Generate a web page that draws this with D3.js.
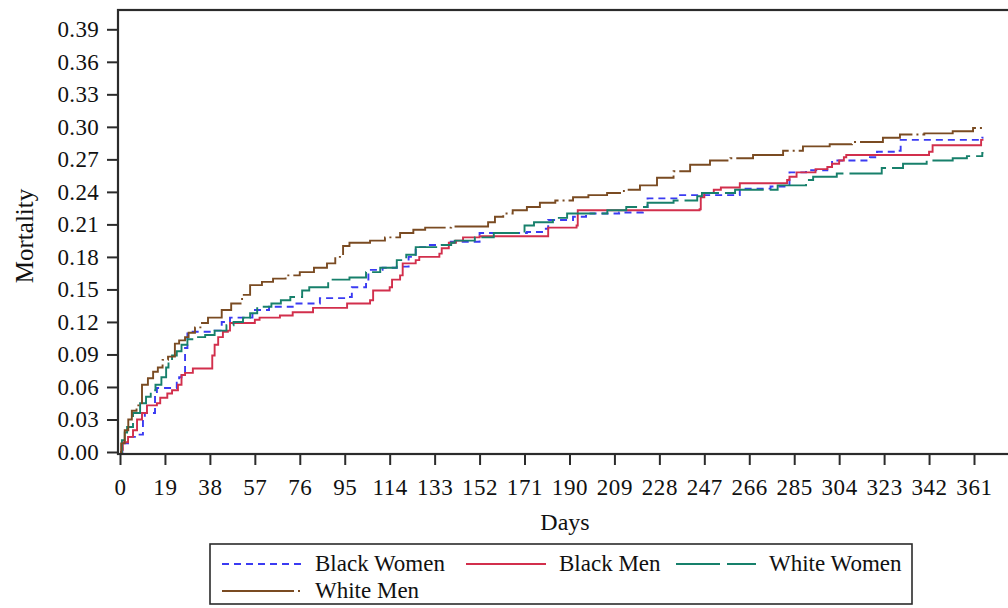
<!DOCTYPE html>
<html>
<head>
<meta charset="utf-8">
<script src="https://cdn.jsdelivr.net/npm/d3@7"></script>
<style>
  body { margin: 0; background: #fff; }
  text { font-family: "Liberation Serif", "Times New Roman", serif; fill: #111; }
</style>
</head>
<body>
<script>
var width = 1008, height = 608;

// Data: [day, cumulative mortality], step after
var blackWomen = [[0,0],[1,0.008],[3.4,0.014],[7.6,0.016],[9.7,0.032],[10.5,0.036],[14.8,0.054],[15.6,0.059],
  [24,0.064],[25,0.069],[26,0.073],[27.5,0.096],[28.5,0.111],[40,0.112],[43,0.12],[46.5,0.124],[56,0.131],
  [63,0.134],[73,0.137],[84.5,0.142],[95.5,0.143],[98,0.152],[104,0.157],[105,0.168],[111,0.17],[117,0.171],
  [122,0.18],[125,0.189],[131,0.191],[139,0.194],[152,0.202],[172,0.203],[180,0.206],[181,0.214],[191.5,0.217],
  [197,0.22],[211,0.221],[221,0.226],[223,0.234],[236,0.237],[261,0.237],[262,0.243],[275,0.245],[283,0.258],
  [290,0.26],[299,0.263],[301,0.269],[317,0.272],[320,0.277],[328,0.278],[330,0.288],[364.5,0.29],[365,0.29]];

var blackMen = [[0,0],[0.8,0.002],[1.2,0.009],[3.4,0.014],[5.5,0.02],[7.2,0.03],[9.3,0.036],[11.4,0.043],
  [15.6,0.045],[17,0.05],[20,0.054],[22,0.057],[24.5,0.062],[26,0.071],[27.5,0.073],[30.8,0.077],[39,0.089],
  [40,0.099],[41.5,0.106],[43.5,0.111],[45.6,0.112],[46.5,0.119],[57,0.122],[59,0.124],[67.6,0.126],[73,0.129],
  [81.6,0.133],[96,0.137],[105.7,0.14],[107,0.149],[114,0.152],[115,0.159],[118.4,0.163],[119.5,0.174],
  [125,0.177],[126.5,0.18],[135,0.183],[136,0.188],[139,0.193],[142,0.195],[145,0.198],[152,0.199],[181,0.207],
  [193,0.209],[193.5,0.223],[245,0.224],[245.5,0.235],[247,0.239],[251,0.242],[254,0.244],[262,0.248],
  [282,0.251],[283,0.254],[286,0.258],[294,0.261],[299,0.263],[301,0.266],[304,0.269],[306,0.272],[307,0.274],
  [342,0.277],[343.5,0.283],[364,0.288],[365,0.288]];

var whiteWomen = [[0,0],[0.8,0.011],[2,0.018],[3,0.023],[5.5,0.036],[8.5,0.045],[11,0.051],[13,0.057],
  [15,0.062],[17.5,0.069],[19.5,0.078],[20.5,0.083],[22,0.089],[24,0.093],[26,0.099],[28.5,0.104],[31,0.106],
  [36,0.108],[40,0.112],[45,0.117],[48,0.12],[52,0.124],[55,0.128],[58,0.134],[64,0.137],[68,0.14],[72,0.143],
  [77,0.149],[80,0.152],[88,0.159],[97,0.161],[104,0.166],[110,0.17],[117,0.177],[121,0.182],[125,0.189],
  [136,0.191],[140,0.193],[141.5,0.195],[150,0.198],[158,0.202],[171,0.209],[175,0.212],[183,0.216],
  [189,0.22],[206,0.223],[214,0.226],[223,0.23],[234,0.232],[244,0.236],[246,0.239],[260,0.242],[278,0.246],
  [290,0.251],[293,0.254],[303,0.257],[322,0.262],[331,0.266],[341,0.269],[352,0.271],[358,0.273],
  [364.5,0.276],[365,0.276]];

var whiteMen = [[0,0],[0.5,0.008],[2,0.02],[3.5,0.03],[5,0.038],[7,0.043],[9.3,0.062],[11.8,0.068],
  [14,0.074],[16,0.078],[18,0.085],[20.3,0.088],[23.2,0.1],[25,0.103],[27.5,0.106],[29,0.11],[31.7,0.115],
  [34,0.119],[37.2,0.124],[43,0.131],[47,0.137],[51.6,0.145],[55,0.154],[60,0.157],[64.7,0.16],[70,0.163],
  [76,0.166],[82,0.17],[87.5,0.174],[91,0.18],[94.3,0.19],[97,0.193],[105.7,0.195],[112,0.198],[118.4,0.202],
  [124,0.205],[129,0.207],[140,0.208],[155.6,0.212],[158.5,0.217],[162,0.22],[166,0.223],[172,0.226],
  [177.5,0.23],[184,0.232],[191.5,0.235],[198,0.237],[205.9,0.239],[213,0.242],[219.8,0.246],[227,0.253],
  [234,0.259],[241,0.265],[249.4,0.269],[258,0.271],[267.6,0.274],[280.3,0.278],[288.7,0.282],[300,0.284],
  [309.4,0.286],[322.5,0.29],[329.7,0.293],[340,0.294],[352,0.296],[360.6,0.299],[366,0.299]];

var xTicks = d3.range(0, 362, 19);             // 0, 19, ... 361
var yTicks = d3.range(0, 0.391, 0.03);         // 0.00 ... 0.39

var series = [
  {name: "Black Women", data: blackWomen, color: "#3b3bf2", dash: "7,5"},
  {name: "Black Men",   data: blackMen,   color: "#d22f4c", dash: null},
  {name: "White Women", data: whiteWomen, color: "#17806b", dash: "42,6"},
  {name: "White Men",   data: whiteMen,   color: "#7a4b22", dash: "60,4,2,4"}
];

// Scales
var xScale = d3.scaleLinear().domain([0, 361]).range([120, 974]);
var yScale = d3.scaleLinear().domain([0, 0.39]).range([452, 29.3]);

var svg = d3.select("body").append("svg")
    .attr("width", width)
    .attr("height", height);

var frame = {left: 118, top: 10, right: 1020, bottom: 454};

// Curves (clip to frame)
svg.append("clipPath").attr("id", "plotclip")
  .append("rect")
    .attr("x", frame.left).attr("y", frame.top)
    .attr("width", frame.right - frame.left).attr("height", frame.bottom - frame.top);

var line = d3.line()
    .x(function(d) { return xScale(d[0]); })
    .y(function(d) { return yScale(d[1]); })
    .curve(d3.curveStepAfter);

var curves = svg.append("g").attr("clip-path", "url(#plotclip)");
series.forEach(function(s) {
  curves.append("path")
      .datum(s.data)
      .attr("d", line)
      .attr("fill", "none")
      .attr("stroke", s.color)
      .attr("stroke-width", 1.9)
      .attr("stroke-dasharray", s.dash);
});

// Frame
svg.append("rect")
    .attr("x", frame.left).attr("y", frame.top)
    .attr("width", frame.right - frame.left).attr("height", frame.bottom - frame.top)
    .attr("fill", "none")
    .attr("stroke", "#2b2b2b")
    .attr("stroke-width", 2.2);

// Y axis
var yAxis = d3.axisLeft(yScale)
    .tickValues(yTicks)
    .tickFormat(d3.format(".2f"))
    .tickSize(11)
    .tickPadding(8);
var gy = svg.append("g")
    .attr("transform", "translate(" + frame.left + ",0)")
    .call(yAxis);
gy.select(".domain").remove();
gy.selectAll(".tick line").attr("stroke", "#2b2b2b").attr("stroke-width", 2);
gy.selectAll(".tick text")
    .style("font-family", "'Liberation Serif', serif")
    .style("font-size", "23px")
    .style("letter-spacing", "0.3px")
    .attr("fill", "#111");

// X axis
var xAxis = d3.axisBottom(xScale)
    .tickValues(xTicks)
    .tickFormat(d3.format("d"))
    .tickSize(11)
    .tickPadding(14);
var gx = svg.append("g")
    .attr("transform", "translate(0," + frame.bottom + ")")
    .call(xAxis);
gx.select(".domain").remove();
gx.selectAll(".tick line").attr("stroke", "#2b2b2b").attr("stroke-width", 2);
gx.selectAll(".tick text")
    .style("font-family", "'Liberation Serif', serif")
    .style("font-size", "23px")
    .style("letter-spacing", "0.6px")
    .attr("fill", "#111");

// Axis titles
svg.append("text")
    .attr("x", 565).attr("y", 530)
    .attr("text-anchor", "middle")
    .style("font-size", "24px")
    .text("Days");
svg.append("text")
    .attr("transform", "translate(33,236) rotate(-90)")
    .attr("text-anchor", "middle")
    .style("font-size", "25px")
    .text("Mortality");

// Legend
var legend = svg.append("g");
legend.append("rect")
    .attr("x", 210).attr("y", 544)
    .attr("width", 702).attr("height", 60)
    .attr("fill", "#fff")
    .attr("stroke", "#2b2b2b")
    .attr("stroke-width", 1.6);

var legendPos = [
  {x: 222, y: 564}, {x: 466, y: 564}, {x: 676, y: 564}, {x: 222, y: 591}
];
series.forEach(function(s, i) {
  var p = legendPos[i];
  var lineDash = s.dash;
  if (s.name === "White Men") lineDash = "72,4,2,4";
  if (s.name === "White Women") lineDash = "44,7";
  legend.append("line")
      .attr("x1", p.x).attr("x2", p.x + 80)
      .attr("y1", p.y).attr("y2", p.y)
      .attr("stroke", s.color)
      .attr("stroke-width", 1.9)
      .attr("stroke-dasharray", lineDash);
  legend.append("text")
      .attr("x", p.x + 93).attr("y", p.y + 7)
      .style("font-size", "23px")
      .text(s.name);
});
</script>
</body>
</html>
